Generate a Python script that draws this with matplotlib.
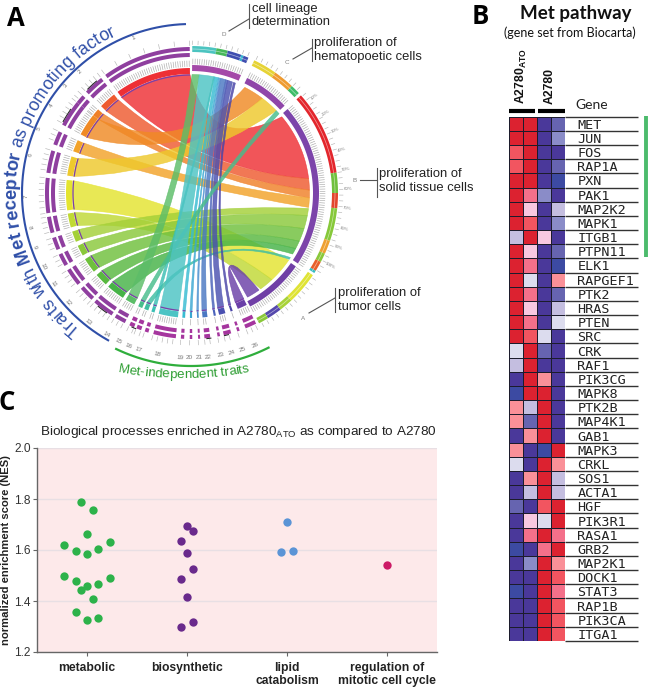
import numpy as np
import matplotlib
matplotlib.use('Agg')
import matplotlib.pyplot as plt
from matplotlib.path import Path
from matplotlib.patches import PathPatch
from matplotlib.colors import ListedColormap
from matplotlib.font_manager import FontProperties
from matplotlib.textpath import text_to_path

plt.rcParams['font.family'] = ['Liberation Sans', 'DejaVu Sans']
plt.rcParams['mathtext.fontset'] = 'custom'
plt.rcParams['mathtext.rm'] = 'Liberation Sans'
plt.rcParams['mathtext.bf'] = 'Liberation Sans:bold'

# ---------- panel A data (angles in degrees from top; left = counter-clockwise, right = clockwise)
sector_start = [0.5, 38, 48, 51.5, 65, 73, 84, 99.5, 108, 115, 122, 131, 138.5, 148.5, 155, 158, 161.5, 165, 176, 179.5, 182.8, 185.3, 190.5, 193, 198.5, 202]
sector_end = [36, 46, 51.5, 62, 70.5, 82, 98, 106, 113, 120, 129, 137, 147, 153, 157, 160, 163, 174, 177.3, 180.5, 183.6, 187.6, 191.5, 196, 199.5, 206.5]
sector_colors = ['#ee2f35', '#ee5a30', '#f08028', '#f08a25', '#f2a32a', '#eec92c', '#e4e42f', '#c0d934', '#a4d038', '#8ac83a', '#6fc03c', '#58b840', '#46b347', '#5cbd68', '#48bd8c', '#3fbda2', '#3cbfb4', '#4cc4c4', '#38bcd2', '#3aa8d2', '#4a90cf', '#4a78c2', '#4a62ba', '#4a50b0', '#4a45a8', '#6a3fa8']
target_start = [50, 83, 88.6, 27, 92.4, 37, 124.5, 137, 97.5, 101, 107.5, 114, 118, 0.5, 46, 123, 11, 4, 11.5, 13.2, 14, 14.6, 17, 18, 21, 145]
target_end = [83, 88.6, 92.4, 37, 97, 46, 137, 144, 101, 107.5, 114, 118, 121, 4, 48, 124, 11.5, 11, 13, 13.8, 14.5, 17, 18, 20.5, 22, 151.5]
group_names = ['D', 'C', 'B', 'A']
group_start = [0.5, 26, 49, 125]
group_end = [23, 47, 123.4, 152.5]
group_colors = ['#a449a8', '#8f45a9', '#7c44aa', '#6f3fa5']
ring_start = [0.5, 10, 14.5, 20, 21, 25.5, 35, 43.3, 48.4, 82, 90, 96, 109, 114.4, 118, 122, 124, 137, 142.5, 148.4]
ring_end = [10, 14.5, 20, 21, 23, 35, 43.3, 47.2, 82, 90, 96, 109, 114.4, 118, 122, 123, 137, 142.5, 148.4, 152.4]
ring_colors = ['#4cc4c0', '#46b85a', '#3f4eb0', '#35b4d0', '#3f4eb0', '#e6d335', '#ee9a30', '#3fbd6a', '#e3262c', '#6fc03c', '#e3452c', '#86c83a', '#eea030', '#8ac83a', '#e8602c', '#35bcc0', '#dfe335', '#a8d238', '#5548ac', '#8ac83a']
black_start = [40, 55, 140.5, 156, 186, 193]
black_end = [45, 61, 145, 158, 188, 195]
number_angles = [20.5, 42.5, 49.5, 58, 67, 76.5, 91, 102, 109, 116.4, 123.4, 131.8, 141.6, 149.3, 153.9, 157.7, 161.5, 168.3, 176.2, 179.3, 182.7, 185.9, 190.3, 194.2, 198.1, 202.9]
percent_labels = ['10%', '20%', '30%', '40%', '50%', '60%', '70%', '80%', '90%', '100%']

# ---------- panel B data
genes = ['MET', 'JUN', 'FOS', 'RAP1A', 'PXN', 'PAK1', 'MAP2K2', 'MAPK1', 'ITGB1', 'PTPN11', 'ELK1', 'RAPGEF1', 'PTK2', 'HRAS', 'PTEN', 'SRC', 'CRK', 'RAF1', 'PIK3CG', 'MAPK8', 'PTK2B', 'MAP4K1', 'GAB1', 'MAPK3', 'CRKL', 'SOS1', 'ACTA1', 'HGF', 'PIK3R1', 'RASA1', 'GRB2', 'MAP2K1', 'DOCK1', 'STAT3', 'RAP1B', 'PIK3CA', 'ITGA1']
heat_levels = ['#DC2230', '#F25560', '#F4708A', '#FA9098', '#F8C8E0', '#DCDCEE', '#C4BEE0', '#8A8CC8', '#6664B0', '#4A389A', '#3C4AA2']
ato_1 = [0, 0, 1, 1, 0, 0, 0, 0, 6, 0, 0, 0, 0, 0, 0, 0, 5, 6, 9, 10, 3, 3, 9, 3, 5, 9, 9, 8, 9, 9, 10, 9, 9, 10, 9, 9, 9]
ato_2 = [0, 0, 0, 0, 0, 2, 4, 1, 0, 4, 2, 5, 2, 4, 2, 1, 0, 0, 0, 0, 6, 8, 3, 9, 9, 3, 6, 9, 4, 2, 9, 7, 9, 9, 9, 9, 9]
par_1 = [9, 9, 9, 9, 9, 7, 9, 9, 4, 9, 9, 9, 9, 9, 9, 5, 8, 9, 3, 0, 0, 0, 0, 10, 0, 0, 0, 1, 5, 0, 2, 0, 0, 0, 0, 0, 0]
par_2 = [8, 7, 9, 8, 10, 9, 6, 7, 9, 8, 10, 3, 8, 6, 5, 9, 9, 9, 9, 9, 9, 9, 9, 0, 3, 6, 6, 0, 0, 2, 0, 3, 1, 2, 1, 1, 1]

# ---------- panel C data
categories = ['metabolic', 'biosynthetic', 'lipid\ncatabolism', 'regulation of\nmitotic cell cycle']
dot_colors = ['#2db24a', '#6a2a8c', '#5b94d6', '#cc1a66']
metabolic_off = [-.057, .057, 0, -.227, -.113, 0, .113, .227, -.227, -.113, -.057, 0, .113, .227, .057, -.113, 0, .113]
metabolic_nes = [1.787, 1.755, 1.662, 1.619, 1.595, 1.585, 1.603, 1.63, 1.497, 1.48, 1.442, 1.458, 1.466, 1.49, 1.408, 1.356, 1.327, 1.334]
biosyn_off = [0, .057, -.057, 0, .057, -.057, 0, .057, -.057]
biosyn_nes = [1.694, 1.673, 1.635, 1.589, 1.526, 1.487, 1.415, 1.319, 1.30]
lipid_off = [0, -.057, .057]
lipid_nes = [1.708, 1.591, 1.597]
mitotic_off = [0]
mitotic_nes = [1.54]

W, H = 650, 699
fig = plt.figure(figsize=(6.5, 6.99), dpi=100)
px = fig.add_axes([0, 0, 1, 1])
px.set_xlim(0, W)
px.set_ylim(H, 0)
px.axis('off')

cx, cy = 191, 193


def pt(a, r, c=(cx, cy)):
    t = np.radians(a)
    return c[0] + r * np.sin(t), c[1] - r * np.cos(t)


def arc(a0, a1, r, **kw):
    a = np.linspace(a0, a1, max(2, int(abs(a1 - a0) * 2)))
    x, y = pt(a, r)
    px.plot(x, y, solid_capstyle='butt', **kw)


def band(a0, a1, r0, r1, color, z=3, alpha=1):
    a = np.linspace(a0, a1, max(2, int(abs(a1 - a0) * 2)))
    xo, yo = pt(a, r1)
    xi, yi = pt(a[::-1], r0)
    px.fill(np.r_[xo, xi], np.r_[yo, yi], color=color, lw=0, zorder=z, alpha=alpha)


def ribbon(s0, s1, t0, t1, r, color, z):
    k = 0.4
    verts, codes = [], []
    ta = np.linspace(t0, t1, max(2, int((t1 - t0) * 2)))
    x, y = pt(ta, r)
    for i, (a, b) in enumerate(zip(x, y)):
        verts.append((a, b))
        codes.append(Path.MOVETO if i == 0 else Path.LINETO)

    def ctrl(p, q):
        mx, my = (p[0] + q[0]) / 2, (p[1] + q[1]) / 2
        return cx + k * (mx - cx), cy + k * (my - cy)
    p, q = pt(t1, r), pt(s0, r)
    verts += [ctrl(p, q), q]
    codes += [Path.CURVE3, Path.CURVE3]
    sa = np.linspace(s0, s1, max(2, int((s1 - s0) * 2)))
    x, y = pt(sa, r)
    for a, b in zip(x[1:], y[1:]):
        verts.append((a, b))
        codes.append(Path.LINETO)
    p, q = pt(s1, r), pt(t0, r)
    verts += [ctrl(p, q), q, q]
    codes += [Path.CURVE3, Path.CURVE3, Path.CLOSEPOLY]
    px.add_patch(PathPatch(Path(verts, codes), facecolor=color, edgecolor=color, lw=0.4, alpha=0.82, zorder=z))


# ribbons
order = [0, 1, 2, 4, 3, 5, 6, 7, 8, 9, 10, 11, 12, 15, 16, 18, 19, 20, 21, 22, 23, 24, 25, 14, 13, 17]
for z, i in enumerate(order):
    ribbon(360 - sector_end[i], 360 - sector_start[i], target_start[i], target_end[i], 118.5, sector_colors[i], 2 + z * 0.01)

# left sectors
for i, (a0, a1) in enumerate(zip(sector_start, sector_end)):
    band(360 - a1, 360 - a0, 119, 125, sector_colors[i])
    arc(360 - a1, 360 - a0, 118, color='#7a3fa8', lw=0.9, zorder=3)
    band(360 - a1, 360 - a0, 142, 146, '#8f3f9f' if i < 14 else '#a5369e')
    band(360 - a1, 360 - a0, 136, 140, '#8f3f9f' if i < 14 else '#a5369e')
    # fine grey ticks standing in for the tiny labels of the tracks
    for a in np.arange(a0 + 0.3, a1, 1.0):
        px.plot(*zip(pt(360 - a, 126.5), pt(360 - a, 132)), color='#aaaaaa', lw=0.45, zorder=2)
    for a in np.arange(a0, a1 + 0.01, max(2.0, (a1 - a0) / 6)):
        px.plot(*zip(pt(360 - a, 147.5), pt(360 - a, 152)), color='#b5b5b5', lw=0.45, zorder=2)
for a0, a1 in zip(black_start, black_end):
    band(360 - a1, 360 - a0, 146, 147, '#222222')

# right group track
for a0, a1, c, n in zip(group_start, group_end, group_colors, group_names):
    band(a0, a1, 122, 128, c)
    for a in np.arange(a0 + 0.3, a1, 1.0):
        px.plot(*zip(pt(a, 129), pt(a, 134)), color='#aaaaaa', lw=0.45, zorder=2)

# right outer ring
for a0, a1, c in zip(ring_start, ring_end, ring_colors):
    band(a0, a1, 141, 147, c)
    arc(a0, a1, 144, color='white', lw=0.5, alpha=0.55, zorder=4)
for g0, g1 in zip(group_start, group_end):
    for a in np.arange(g0, g1, 2.2):
        px.plot(*zip(pt(a, 148.5), pt(a, 152)), color='#b5b5b5', lw=0.45, zorder=2)
for i, lab in enumerate(percent_labels):
    a = 52 + 7.3 * i
    x, y = pt(a, 157)
    px.text(x, y, lab, fontsize=3.2, color='#808080', ha='center', va='center', rotation=90 - a)
letter_pos = [(224, 35), (287, 62), (355, 180), (303, 318)]
for n, (x, y) in zip(group_names, letter_pos):
    px.text(x, y, n, fontsize=4.5, color='#808080', ha='center', va='center')
for i, a in enumerate(number_angles):
    x, y = pt(360 - a, 165)
    rot = a if a <= 100 else a - 180
    px.text(x, y, str(i + 1), fontsize=4.6, color='#777777', ha='center', va='center', rotation=rot)

# group arcs
arc(358.3, 209, 169, color='#2f4fa8', lw=1.5)
arc(153, 206, 173, color='#2fae3c', lw=1.6)


def advance(ch, fp):
    w2 = text_to_path.get_text_width_height_descent('n' + ch + 'n', fp, False)[0]
    w0 = text_to_path.get_text_width_height_descent('nn', fp, False)[0]
    return (w2 - w0) * 100 / 72


def curved(parts, a_start, r, cw=True, c=(cx, cy)):
    """Place letters one by one along a circle. parts: (text, size, weight, colour)."""
    a = a_start
    for txt, size, weight, color in parts:
        fp = FontProperties(family='Liberation Sans', size=size, weight=weight)
        for ch in txt:
            w = advance(ch, fp)
            da = np.degrees(w / r)
            mid = a + da / 2 if cw else a - da / 2
            x, y = pt(mid, r, c)
            rot = -mid if cw else 180 - mid
            px.text(x, y, ch, fontsize=size, fontweight=weight, color=color, ha='center', va='baseline',
                    rotation=rot, rotation_mode='anchor')
            a = a + da if cw else a - da


blue = '#2f4fa8'
curved([('Traits with ', 12.8, 'normal', blue), ('Met receptor', 13.2, 'bold', blue), (' as promoting factor', 12.8, 'normal', blue)], 360 - 141, 175)
curved([('Met-independent traits', 9.6, 'normal', '#2f9e34')], 190.4, 368, cw=False, c=(184, 10))

# callouts
anno = [(252, 15.5, 'cell lineage\ndetermination'), (314, 50, 'proliferation of\nhematopoetic cells'),
        (379, 181, 'proliferation of\nsolid tissue cells'), (338, 300, 'proliferation of\ntumor cells')]
for x, y, t in anno:
    px.text(x, y, t, fontsize=9.4, color='#222222', ha='left', va='center', linespacing=1.15)
bars = [(249, 4, 28, 19, 229, 31), (312, 39, 61, 48, 293, 59), (377, 168, 197, 180, 360, 180), (335, 288, 312, 298, 309, 313)]
for x, y0, y1, yj, xe, ye in bars:
    px.plot([x, x], [y0, y1], color='#555555', lw=0.8)
    px.plot([x, xe], [yj, ye], color='#555555', lw=0.8)

# panel letters
px.text(16, 19, 'A', fontsize=18.5, fontweight='bold', family='Open Sans', color='black', ha='center', va='center')
px.text(480, 17, 'B', fontsize=18.5, fontweight='bold', family='Open Sans', color='black', ha='center', va='center')
px.text(7, 403, 'C', fontsize=18.5, fontweight='bold', family='Open Sans', color='black', ha='center', va='center')

# ---------- panel B
hx0, hx1, hy0, hy1 = 509, 565, 116.7, 641
hm = fig.add_axes([hx0 / W, 1 - hy1 / H, (hx1 - hx0) / W, (hy1 - hy0) / H])
mat = np.array([ato_1, ato_2, par_1, par_2]).T
hm.pcolormesh(np.arange(5), np.arange(len(genes) + 1), mat, cmap=ListedColormap(heat_levels), vmin=-0.5, vmax=10.5,
              edgecolors='#1c1c2c', linewidth=0.7)
hm.set_ylim(len(genes), 0)
hm.set_xlim(0, 4)
hm.yaxis.tick_right()
hm.set_yticks(np.arange(len(genes)) + 0.5)
hm.set_yticklabels(genes, fontsize=9.7, family='DejaVu Sans Mono', color='#222222')
hm.tick_params(axis='y', length=0, pad=9)
hm.set_xticks([])
for s in hm.spines.values():
    s.set_visible(False)
hm.hlines(np.arange(len(genes) + 1), 4, 4 + 73 / 14, color='#333333', lw=1.0, clip_on=False)
px.plot([646, 646], [116, 257], color='#4cbb6c', lw=2.8, solid_capstyle='butt')
px.plot([509, 535], [110.5, 110.5], color='black', lw=3, solid_capstyle='butt')
px.plot([538, 565], [110.5, 110.5], color='black', lw=3, solid_capstyle='butt')
px.text(521, 104, r'$\mathbf{A2780}_{\mathbf{ATO}}$', fontsize=8.8, rotation=90, ha='center', va='bottom', color='#111111')
px.text(550, 104, 'A2780', fontsize=8.8, fontweight='bold', rotation=90, ha='center', va='bottom', color='#111111')
px.text(575, 105, 'Gene', fontsize=10, ha='left', va='center', color='#222222', family='Lato')
px.text(576, 13, 'Met pathway', fontsize=13.5, fontweight='bold', family='Lato', ha='center', va='center', color='#111111')
px.text(570, 33, '(gene set from Biocarta)', fontsize=9, family='Lato', ha='center', va='center', color='#111111')

# ---------- panel C
ax = fig.add_axes([37 / W, 1 - 652 / H, 400 / W, 204 / H])
ax.set_facecolor('#fde9ea')
ax.set_xlim(-0.5, 3.5)
ax.set_ylim(1.2, 2.0)
ax.grid(axis='y', color='#e8dfe4', lw=1)
ax.set_axisbelow(True)
series = [(metabolic_off, metabolic_nes), (biosyn_off, biosyn_nes), (lipid_off, lipid_nes), (mitotic_off, mitotic_nes)]
for i, (off, nes) in enumerate(series):
    ax.scatter(np.array(off) + i, nes, s=36, color=dot_colors[i], lw=0, zorder=3)
ax.set_xticks(range(4))
ax.set_xticklabels(categories, fontsize=8.7, fontweight='bold', color='#222222', linespacing=1.1)
ax.set_yticks([1.2, 1.4, 1.6, 1.8, 2.0])
ax.tick_params(axis='y', labelsize=8.6, length=3, width=0.8, color='#666666', labelcolor='#333333', pad=1.5)
ax.tick_params(axis='x', length=3, width=0.8, color='#666666', pad=4)
for s in ['top', 'right']:
    ax.spines[s].set_visible(False)
for s in ['left', 'bottom']:
    ax.spines[s].set_color('#666666')
    ax.spines[s].set_linewidth(1)
ax.set_ylabel('normalized enrichment score (NES)', fontsize=8.1, fontweight='bold', color='#222222', labelpad=2)
px.text(238, 432, r'Biological processes enriched in A2780$_{\mathrm{ATO}}$ as compared to A2780', fontsize=9.7,
        ha='center', va='center', color='#222222')

px.set_zorder(5)
px.patch.set_alpha(0)
fig.savefig('out.png', dpi=100)
